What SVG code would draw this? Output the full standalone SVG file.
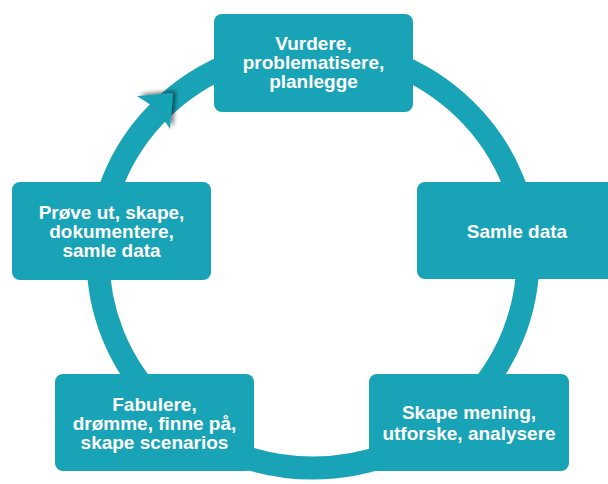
<svg xmlns="http://www.w3.org/2000/svg" width="608" height="484" viewBox="0 0 608 484">
  <defs>
    <style>
      .box { fill: #19a3b6; }
      .lbl { fill: #ffffff; font-family: "Liberation Sans", Arial, sans-serif; font-weight: bold; font-size: 19px; text-anchor: middle; }
      .ring { fill: none; stroke: #19a3b6; stroke-width: 23; }
      .head { fill: #19a3b6; }
    </style>
    <filter id="shadow" x="-50%" y="-50%" width="200%" height="200%">
      <feGaussianBlur in="SourceAlpha" stdDeviation="2"/>
      <feOffset dx="3" dy="-2" result="b"/>
      <feFlood flood-color="#000" flood-opacity="0.55"/>
      <feComposite in2="b" operator="in" result="s"/>
      <feMerge>
        <feMergeNode in="s"/>
        <feMergeNode in="SourceGraphic"/>
      </feMerge>
    </filter>
  </defs>
  <rect width="608" height="484" fill="#ffffff"/>
  <g id="connectors">
    <ellipse class="ring" cx="313" cy="258" rx="215" ry="210"/>
    <polygon class="head" filter="url(#shadow)" points="173,93 137,96 157,109 170,129"/>
  </g>
  <g id="node-vurdere">
    <rect class="box" x="214" y="14" width="199" height="98" rx="8"/>
    <text class="lbl" x="313.5" y="49.5">Vurdere,</text>
    <text class="lbl" x="313.5" y="68.5">problematisere,</text>
    <text class="lbl" x="313.5" y="87.5">planlegge</text>
  </g>
  <g id="node-samle">
    <rect class="box" x="417" y="182" width="200" height="97" rx="8"/>
    <text class="lbl" x="517" y="237.5">Samle data</text>
  </g>
  <g id="node-skape">
    <rect class="box" x="369" y="374" width="200" height="97" rx="8"/>
    <text class="lbl" x="469" y="419">Skape mening,</text>
    <text class="lbl" x="469" y="439.5">utforske, analysere</text>
  </g>
  <g id="node-fabulere">
    <rect class="box" x="55" y="374" width="199" height="97" rx="8"/>
    <text class="lbl" x="154.5" y="411">Fabulere,</text>
    <text class="lbl" x="154.5" y="430">drømme, finne på,</text>
    <text class="lbl" x="154.5" y="449">skape scenarios</text>
  </g>
  <g id="node-prove">
    <rect class="box" x="12" y="182" width="199" height="98" rx="8"/>
    <text class="lbl" x="111.5" y="218.5">Prøve ut, skape,</text>
    <text class="lbl" x="111.5" y="237.5">dokumentere,</text>
    <text class="lbl" x="111.5" y="256.5">samle data</text>
  </g>
</svg>
